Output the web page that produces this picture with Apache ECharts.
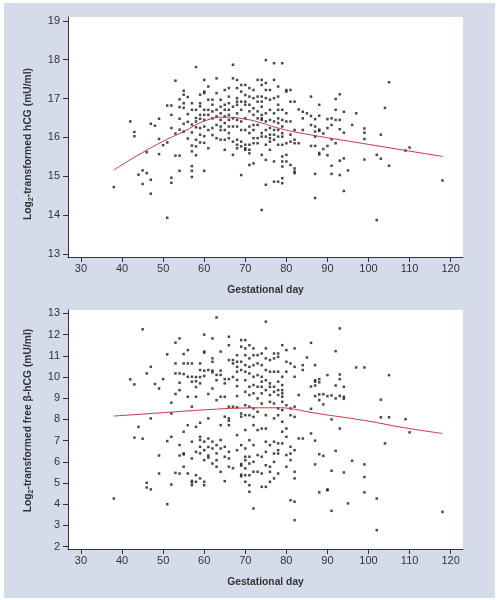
<!DOCTYPE html>
<html><head><meta charset="utf-8">
<script src="https://cdn.jsdelivr.net/npm/echarts@6/dist/echarts.min.js"></script>
<style>
html,body{margin:0;padding:0;background:#fff;}
#bg{position:absolute;left:4px;top:3px;width:491px;height:595px;background:#d4dbea;}
#main{position:absolute;left:0;top:0;width:499px;height:600px;}
</style></head>
<body><div id="bg"></div><div id="main"></div>
<script>
const xTicks = [30,40,50,60,70,80,90,100,110,120];
const hcgTicks = [13,14,15,16,17,18,19];
const betaTicks = [2,3,4,5,6,7,8,9,10,11,12,13];

// Top panel: log2 hCG by gestational day
const hcgByDay = [
 [38,[14.72]],[42,[16.41]],[43,[16.14,16.03]],[44,[15.04]],[45,[15.15,14.8]],[46,[15.62,15.08]],
 [47,[16.35,14.91,14.55]],[48,[16.3]],[49,[16.48,15.96,15.57]],[50,[15.8]],[51,[16.82,15.87,13.93]],
 [52,[16.82,16.58,16.24,14.96,14.83]],[53,[17.46,16.1,15.53]],[54,[16.98,16.78,16.48,16.2,15.53,15.14]],
 [55,[17.2,17.1,16.88,16.76,16.35,16.15]],[56,[17.04,16.6,16.4,15.97]],
 [57,[16.88,16.71,16.33,16.13,15.79,15.64,15.26,15.14,14.98]],[58,[17.81,16.71,16.5,16.41,16.26,15.94,15.77,15.54]],
 [59,[17.1,16.88,16.8,16.58,16.48,16.24,16.07,15.87]],[60,[17.48,17.18,17.14,16.71,16.58,16.45,16.28,16.03,15.86,15.14]],
 [61,[17.31,16.97,16.71,16.58,16.19,15.72]],[62,[16.97,16.84,16.67,16.49,16.24,16.06]],
 [63,[17.52,17.14,16.71,16.54,16.32,15.98]],[64,[16.97,16.79,16.62,16.45,16.28,16.19,15.94]],
 [65,[17.22,16.84,16.71,16.54,16.37,16.19,15.94,15.68]],[66,[17.27,17.05,16.88,16.71,16.58,16.45,16.28,16.11,15.98]],
 [67,[17.87,17.52,16.79,16.49,16.28,15.89,15.55]],[68,[17.48,17.27,17.01,16.92,16.84,16.62,16.45,16.28,15.94,15.81,15.72]],
 [69,[17.35,17.18,16.92,16.71,16.41,16.19,15.89,15.77,15.03]],[70,[17.35,17.09,16.92,16.84,16.49,16.19,15.81,15.72,15.68]],
 [71,[17.27,17.05,16.84,16.67,16.28,16.11,15.81,15.68,15.59,15.29]],[72,[17.22,17.01,16.75,16.58,16.32,16.19,15.98,15.85,15.33]],
 [73,[17.48,17.05,16.92,16.67,16.49,16.32,15.98,15.85]],[74,[17.48,17.35,17.05,16.92,16.79,16.58,16.49,16.45,16.11,16.02,15.55,14.13]],
 [75,[17.99,17.4,17.22,17.01,16.62,16.41,16.19,16.02,15.81,15.42,14.78]],[76,[17.22,16.97,16.71,16.45,16.24,16.07,15.98,15.89,15.68]],
 [77,[17.91,17.48,17.01,16.62,16.41,16.19,16.07,15.94,15.38,14.86]],[78,[17.31,17.05,16.84,16.71,16.49,16.37,16.19,16.02,15.81,14.86]],
 [79,[17.91,16.71,16.45,16.28,16.11,16.02,15.81,15.51,15.38,15.25,14.95,14.82]],[80,[17.22,17.18,16.62,16.41,15.85,15.55,15.38]],
 [81,[17.22,16.92,16.41,16.07,15.89,15.29]],[82,[16.92,16.19,15.94,15.85,15.2,15.12,15.08]],[83,[16.72,15.85]],
 [84,[16.66,16.49,16.19]],[85,[16.62]],[86,[17.05,16.55,16.32,15.78]],[87,[16.47,16.28,16.15,16.02,15.78,15.06,14.44]],
 [88,[16.84,16.56,16.2,16.17,15.6,15.56]],[89,[16.1,15.7]],[90,[16.47,16.24,15.78,15.54]],[91,[16.49,16.32,15.95,15.27,15.06]],
 [92,[16.99,16.71,16.45,15.85]],[93,[17.11,16.45,16.21,15.4,15.03]],[94,[16.66,16.12,15.46,14.62]],[95,[15.15]],[96,[16.32]],
 [97,[16.62]],[99,[16.23,16.12,15.96,15.43]],[102,[15.55,13.87]],[103,[16.07,15.45]],[104,[16.76]],[105,[17.42,15.27]],
 [109,[15.66]],[110,[15.74]],[118,[14.89]]
];
const hcgFitDays = [38,44,50,55,60,65,70,74,78,83,100,118];
const hcgFitVals = [15.16,15.55,15.9,16.15,16.42,16.52,16.47,16.37,16.24,16.12,15.82,15.51];

// Bottom panel: log2 free beta-hCG by gestational day
const betaByDay = [
 [38,[4.27]],[42,[9.89]],[43,[9.65,7.14]],[44,[7.65]],[45,[12.25,7.09]],[46,[10.17,5.01,4.79]],[47,[10.48,8.05,4.7]],
 [48,[9.67]],[49,[9.46,6.3,5.45]],[50,[9.9]],[51,[11.07,6.98,4.0]],[52,[8.79,8.28,7.18,4.93]],[53,[11.62,10.64,10.17,9.2,5.48]],
 [54,[11.82,10.17,9.73,9.38,6.79,6.3,5.45]],[55,[11.08,10.64,10.14,7.42,6.4,6.35,5.77]],[56,[11.27,10.64,10.01,9.07,7.73,5.45]],
 [57,[10.64,10.01,9.78,8.6,6.95,6.16,5.1,5.03,4.9]],[58,[10.0,9.8,9.53,9.07,7.65,6.47,5.37,5.06]],
 [59,[10.64,10.33,10.0,9.7,7.84,7.18,7.03,6.71,6.4,5.22]],[60,[12.0,11.2,11.15,10.3,10.05,6.95,6.55,6.08,5.06,4.9]],
 [61,[10.33,9.2,8.05,7.1,6.7,6.3,6.2]],[62,[11.82,10.88,10.72,10.3,10.22,9.46,6.95,6.63,5.92]],
 [63,[12.81,10.1,9.85,8.91,6.79,6.4,6.08,5.77]],[64,[11.2,10.3,10.1,9.07,7.73,7.03,6.63,5.53]],
 [65,[9.9,9.7,9.07,8.13,6.71,6.24,5.09]],[66,[11.9,11.5,10.8,9.9,8.6,8.05,7.94,7.73,6.47,6.16,5.77]],
 [67,[10.8,10.64,10.0,8.6,5.7]],[68,[11.03,10.72,10.48,10.25,9.86,9.57,9.1,8.57,7.26,6.55]],
 [69,[11.74,11.43,10.72,10.33,8.28,8.13,6.79,5.9,5.82,5.4,5.32]],
 [70,[11.74,11.35,11.03,10.56,10.25,9.85,9.3,8.67,8.2,7.5,6.63,6.24,6.08,5.69,5.37,5.06]],
 [71,[11.5,10.88,10.48,10.17,9.54,9.15,8.6,8.2,7.02,6.24,5.92,5.37,4.9,4.59]],
 [72,[11.35,11.03,10.56,10.01,9.62,9.23,8.52,8.12,7.73,6.79,6.0,5.53,3.8]],
 [73,[11.03,10.64,10.09,9.54,8.99,8.36,7.5,6.32,5.53]],[74,[11.11,10.56,10.01,9.78,9.54,9.23,8.75,7.57,6.24,5.45,4.82]],
 [75,[12.61,11.35,10.88,10.33,9.85,9.38,8.2,7.57,6.95,6.47,5.84,4.82]],[76,[10.8,10.25,9.7,9.54,9.15,8.83,6.79,5.77,5.53,5.06]],
 [77,[11.11,10.88,10.25,9.54,9.3,8.75,8.05,6.95,6.39,6.0,5.22]],[78,[11.11,10.95,10.25,9.78,9.38,9.15,8.52,8.2,6.87,6.55,6.39,5.45]],
 [79,[11.5,10.01,9.62,9.38,9.23,9.07,8.83,8.44,7.89,7.42,6.87]],[80,[11.27,10.72,10.25,8.67,7.57,7.18,6.32,5.77]],
 [81,[10.64,8.52,8.2,6.71,6.39,6.08,4.19]],[82,[11.35,10.48,10.01,8.6,8.12,6.55,5.53,5.22,4.12,3.25]],[83,[9.15,7.1]],
 [84,[10.56,10.33,7.1]],[85,[10.92]],[86,[11.61,9.55,8.5,7.34]],[87,[10.56,9.85,9.78,9.6,9.1,7.0,5.88]],
 [88,[9.9,9.75,9.18,8.91,6.36,4.56]],[89,[9.19,8.71,6.28]],[90,[10.09,9.1,4.7,4.66]],[91,[9.13,8.0,5.58,3.69]],
 [92,[11.22,9.6,8.99,6.52]],[93,[12.29,10.12,9.9,9.11,7.57]],[94,[9.54,9.07,8.97,5.5]],[95,[4.04]],[96,[6.05]],[97,[10.45]],
 [99,[10.45,5.88,5.28,4.56]],[102,[4.27,2.78]],[103,[8.93,8.1]],[104,[6.87]],[105,[10.09,8.1]],[109,[8.01]],[110,[7.39]],[118,[3.64]]
];
const betaFitDays = [38,45,53,60,70,78,82,86,99,109,118];
const betaFitVals = [8.16,8.25,8.36,8.45,8.54,8.55,8.48,8.33,7.95,7.6,7.34];

function flatten(byDay){ const out=[]; byDay.forEach(([d,vs])=>vs.forEach(v=>out.push([d,v]))); return out; }
function pairs(xs,ys){ return xs.map((x,i)=>[x,ys[i]]); }

const txt = '#333';
const font = 'Liberation Sans, Arial, sans-serif';
const nameSize = 10.3;
function xAxisCfg(idx){
  return {gridIndex:idx, type:'value', min:26.84, max:123,
    axisLine:{show:true,onZero:false,lineStyle:{color:txt,width:1}},
    axisTick:{show:true,length:5,customValues:xTicks,lineStyle:{color:txt}},
    axisLabel:{customValues:xTicks,fontSize:11,color:txt,margin:6,fontFamily:font},
    splitLine:{show:false},
    name:'Gestational day', nameLocation:'middle', nameGap:28,
    nameTextStyle:{fontSize:nameSize,fontWeight:'bold',color:txt,fontFamily:font}};
}
function yAxisCfg(idx,min,max,ticks,label,pad){
  return {gridIndex:idx, type:'value', min:min, max:max,
    axisLine:{show:true,onZero:false,lineStyle:{color:txt,width:1}},
    axisTick:{show:true,length:5,customValues:ticks,lineStyle:{color:txt}},
    axisLabel:{customValues:ticks,fontSize:11,color:txt,margin:8,fontFamily:font},
    splitLine:{show:false},
    name:label, nameLocation:'middle', nameGap:33,
    nameTextStyle:{fontSize:nameSize,fontWeight:'bold',color:txt,fontFamily:font,padding:pad,
      rich:{b:{fontSize:nameSize,fontWeight:'bold',color:txt,fontFamily:font},
            s:{fontSize:7,fontWeight:'bold',color:txt,fontFamily:font,verticalAlign:'bottom',padding:[6,0,0,0]}}}};
}
const chart = echarts.init(document.getElementById('main'), null, {renderer:'canvas'});
chart.setOption({
  backgroundColor:'transparent',
  animation:false,
  grid:[
    {left:68, top:17, width:395, height:240, show:true, backgroundColor:'#fff', borderWidth:0},
    {left:68, top:310, width:395, height:239, show:true, backgroundColor:'#fff', borderWidth:0}
  ],
  xAxis:[xAxisCfg(0), xAxisCfg(1)],
  yAxis:[
    yAxisCfg(0,12.92,19.1,hcgTicks,'{b|Log}{s|2}{b|-transformed hCG (mU/ml)}',[0,14,0,0]),
    yAxisCfg(1,1.89,13.16,betaTicks,'{b|Log}{s|2}{b|-transformed free β-hCG (mU/ml)}',[0,0,0,18])
  ],
  series:[
    {type:'scatter', xAxisIndex:0, yAxisIndex:0, data:flatten(hcgByDay), symbol:'rect', symbolSize:2.5, itemStyle:{color:'#1a1a1a'}},
    {type:'line', xAxisIndex:0, yAxisIndex:0, data:pairs(hcgFitDays,hcgFitVals), smooth:true, showSymbol:false, lineStyle:{color:'#c8363e',width:1}, z:3},
    {type:'scatter', xAxisIndex:1, yAxisIndex:1, data:flatten(betaByDay), symbol:'rect', symbolSize:2.5, itemStyle:{color:'#1a1a1a'}},
    {type:'line', xAxisIndex:1, yAxisIndex:1, data:pairs(betaFitDays,betaFitVals), smooth:true, showSymbol:false, lineStyle:{color:'#c8363e',width:1}, z:3}
  ]
});
</script></body></html>
